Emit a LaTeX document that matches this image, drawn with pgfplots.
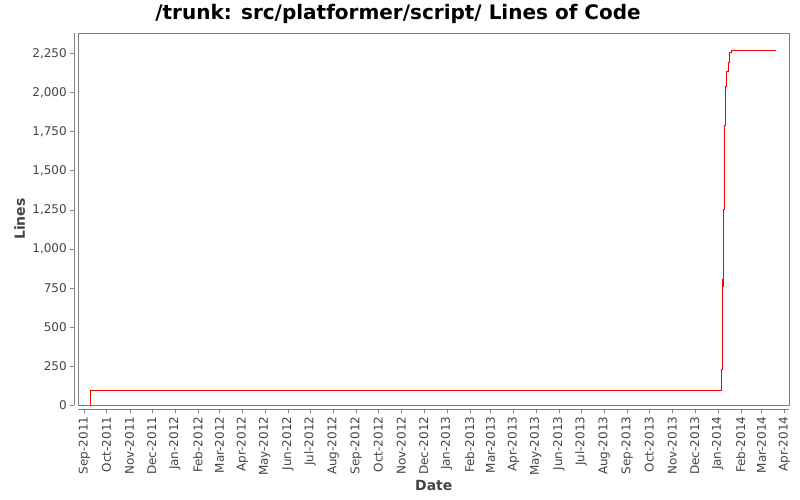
\documentclass[border=0pt]{standalone}
\usepackage{pgfplots}
\pgfplotsset{compat=1.18}
\usepackage{fontspec}
\setmainfont{DejaVu Sans}
\definecolor{boxgray}{HTML}{808080}
\definecolor{txtgray}{HTML}{444444}
\begin{document}
\begin{tikzpicture}
\path[use as bounding box] (0,0) rectangle (800pt,500pt);
\begin{axis}[
  at={(78.3pt,95pt)}, anchor=south west,
  scale only axis, width=711pt, height=371.7pt,
  xmin=-8.1, xmax=949.5, ymin=0, ymax=2378,
  axis x line=bottom, axis y line=left,
  axis line style={-, boxgray},
  axis x line shift=4pt, axis y line shift=4pt,
  tick align=outside, major tick length=4pt,
  tick style={boxgray},
  xtick={0,30,61,91,122,153,182,213,243,274,304,335,366,396,427,457,488,519,547,578,608,639,669,700,731,761,792,822,853,884,912,943},
  xticklabels={Sep-2011,Oct-2011,Nov-2011,Dec-2011,Jan-2012,Feb-2012,Mar-2012,Apr-2012,May-2012,Jun-2012,Jul-2012,Aug-2012,Sep-2012,Oct-2012,Nov-2012,Dec-2012,Jan-2013,Feb-2013,Mar-2013,Apr-2013,May-2013,Jun-2013,Jul-2013,Aug-2013,Sep-2013,Oct-2013,Nov-2013,Dec-2013,Jan-2014,Feb-2014,Mar-2014,Apr-2014},
  ytick={0,250,500,750,1000,1250,1500,1750,2000,2250},
  /pgf/number format/.cd, 1000 sep={,}, assume math mode=true, /pgfplots/.cd,
  x tick label style={rotate=90, anchor=east, font=\fontsize{12}{14}\selectfont, text=txtgray},
  y tick label style={font=\fontsize{12}{14}\selectfont, text=txtgray},
  every axis title shift=0pt,
  title={/trunk: src/platformer/script/ Lines of Code},
  title style={at={(axis description cs:0.4497,1.0371)}, anchor=base, font=\fontsize{20}{24}\selectfont\bfseries},
  xlabel={Date},
  xlabel style={at={(axis description cs:0.5,0)}, anchor=base, yshift=-85pt, font=\fontsize{14}{16}\selectfont\bfseries, text=txtgray},
  ylabel={Lines},
  ylabel style={at={(axis description cs:-0.075,0.5)}, anchor=base, font=\fontsize{14}{16}\selectfont\bfseries, text=txtgray},
  clip=false,
]
\draw[boxgray] (rel axis cs:0,0) rectangle (rel axis cs:1,1);
\addplot[red, line width=1pt, const plot] coordinates {
(9,0) (9,90) (858,228) (859.3,800) (860.2,757) (861,1248) (862.5,1791) (863.9,2037) (865.2,2133) (867.1,2193) (869.4,2257) (872,2265) (931,2265)
};
\end{axis}
\end{tikzpicture}
\end{document}
